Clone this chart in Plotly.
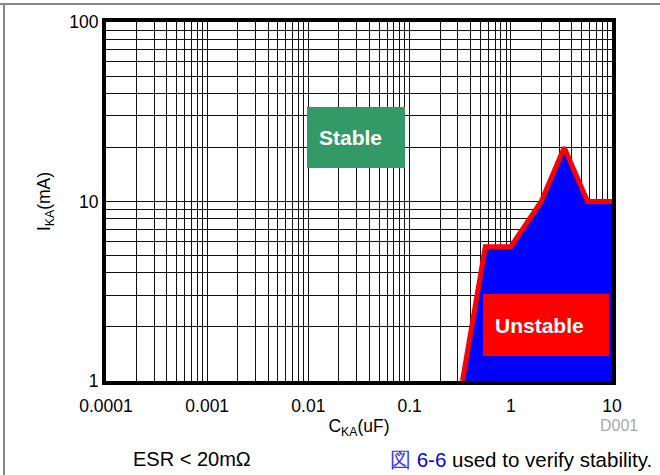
import plotly.graph_objects as go

# ---- data ----
c_boundary = [0.333, 0.56, 1.0, 2.0, 3.37, 5.74, 10.0]   # C_KA (uF)
i_boundary = [1.0, 5.6, 5.6, 10.0, 20.0, 10.0, 10.0]     # I_KA (mA)
y_floor = 1.0

x_tickvals = [m * 10 ** e for e in range(-4, 1) for m in range(1, 10)] + [10]
x_ticktext = ["0.0001" if v == 1e-4 else "0.001" if v == 1e-3 else "0.01" if v == 1e-2
              else "0.1" if v == 0.1 else "1" if v == 1 else "10" if v == 10 else ""
              for v in x_tickvals]
y_tickvals = [m * 10 ** e for e in range(0, 2) for m in range(1, 10)] + [100]
y_ticktext = [str(int(v)) if v in (1, 10, 100) else "" for v in y_tickvals]

FONT = "Liberation Sans, Arial, sans-serif"

fig = go.Figure()

# blue unstable region
fig.add_trace(go.Scatter(
    x=c_boundary + [c_boundary[-1], c_boundary[0]],
    y=i_boundary + [y_floor, y_floor],
    mode="lines", fill="toself", fillcolor="#0000ff",
    line=dict(width=0, color="#0000ff"), hoverinfo="skip", showlegend=False))

# red boundary
fig.add_trace(go.Scatter(
    x=c_boundary, y=i_boundary, mode="lines",
    line=dict(color="#ff0000", width=5), showlegend=False))

W, H = 660, 475
L, R, T, B = 106, 48, 22, 94

fig.update_layout(
    width=W, height=H,
    margin=dict(l=L, r=R, t=T, b=B),
    paper_bgcolor="white", plot_bgcolor="white",
    font=dict(family=FONT, size=17.5, color="black"),
    xaxis=dict(type="log", range=[-4, 1], tickvals=x_tickvals, ticktext=x_ticktext,
               showgrid=True, gridcolor="#111", gridwidth=1,
               showline=True, linecolor="black", linewidth=4, mirror=True,
               ticks="", zeroline=False, ticklabelstandoff=6,
               title=dict(text="C<sub>KA</sub>(uF)", font=dict(size=17.5), standoff=6)),
    yaxis=dict(type="log", range=[0, 2], tickvals=y_tickvals, ticktext=y_ticktext,
               showgrid=True, gridcolor="#111", gridwidth=1,
               showline=True, linecolor="black", linewidth=4, mirror=True,
               ticks="", zeroline=False,
               title=dict(text="I<sub>KA</sub>(mA)", font=dict(size=17.5), standoff=15)),
)

pw, ph = W - L - R, H - T - B
def px(x):
    return (x - L) / pw
def py(y):
    return (H - B - y) / ph

shapes = [
    # page frame lines
    dict(type="line", xref="paper", yref="paper", x0=px(0), x1=px(W), y0=py(4), y1=py(4),
         line=dict(color="#888", width=2)),
    dict(type="line", xref="paper", yref="paper", x0=px(4), x1=px(4), y0=py(4), y1=py(H + 5),
         line=dict(color="#888", width=2)),
    # Stable box
    dict(type="rect", xref="paper", yref="paper", x0=px(307), x1=px(405), y0=py(168), y1=py(107),
         fillcolor="#339966", line=dict(width=0)),
    # Unstable box
    dict(type="rect", xref="paper", yref="paper", x0=px(483), x1=px(609), y0=py(356), y1=py(294),
         fillcolor="#ff0000", line=dict(width=0)),
]
fig.update_layout(shapes=shapes)

ann = [
    dict(text="<b>Stable</b>", x=px(350), y=py(137), font=dict(size=21, color="white")),
    dict(text="<b>Unstable</b>", x=px(539), y=py(325), font=dict(size=21, color="white")),
    dict(text="D001", x=px(640), y=py(425), xanchor="right", font=dict(size=16, color="#aaaaaa")),
    dict(text="ESR < 20mΩ", x=px(192), y=py(459), font=dict(size=20)),
    dict(text="<span style='color:#3333ff'>図</span> <span style='color:#0000ee'>6-6</span> used to verify stability.",
         x=px(654), y=py(459), xanchor="right", font=dict(size=20.5)),
]
for a in ann:
    a.update(xref="paper", yref="paper", showarrow=False)
    a.setdefault("xanchor", "center")
    a.setdefault("yanchor", "middle")
fig.update_layout(annotations=ann)

fig.write_html("out.html", config={"displayModeBar": False},
               post_script="document.body.style.margin='0';document.body.style.overflow='hidden';")
